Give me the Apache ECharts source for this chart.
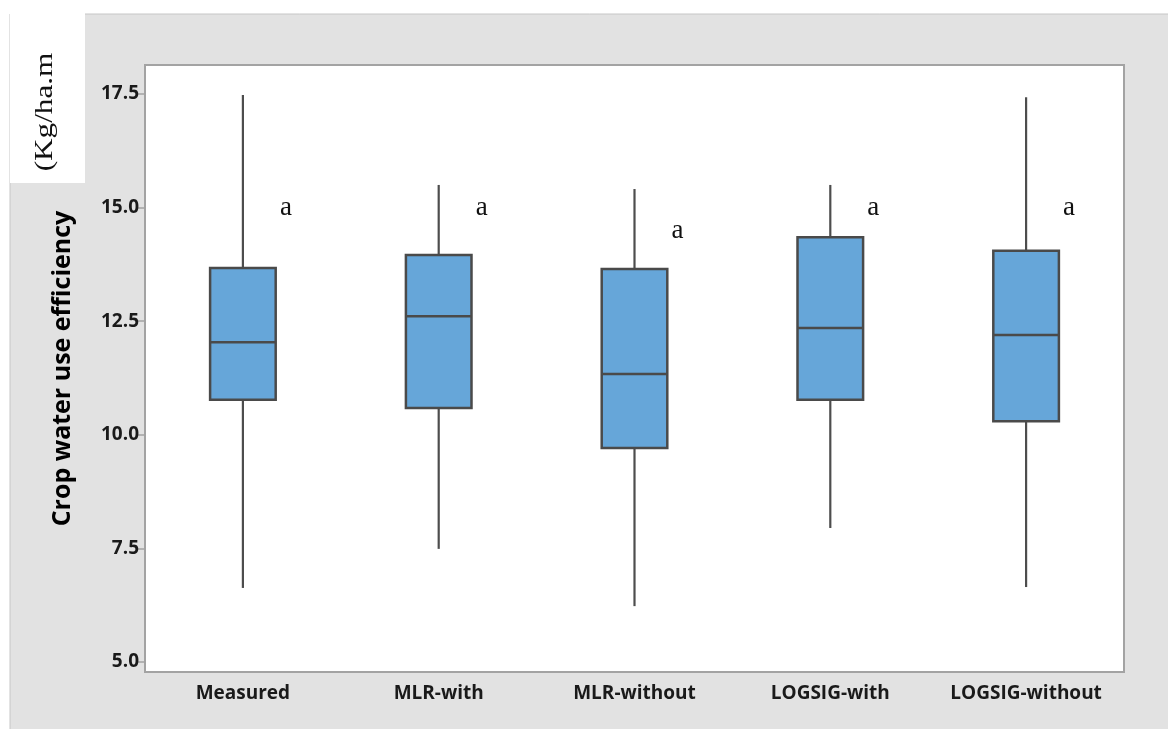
<!DOCTYPE html>
<html>
<head>
<meta charset="utf-8">
<script src="https://cdn.jsdelivr.net/npm/echarts@6/dist/echarts.min.js"></script>
<style>html,body{margin:0;padding:0;background:#fff;}#c{width:1168px;height:729px;}</style>
</head>
<body>
<div id="c"></div>
<script>
const categories = ['Measured', 'MLR-with', 'MLR-without', 'LOGSIG-with', 'LOGSIG-without'];
const whiskerLow = [6.63, 7.49, 6.23, 7.95, 6.65];
const q1 = [10.77, 10.59, 9.71, 10.77, 10.30];
const median = [12.04, 12.61, 11.34, 12.35, 12.20];
const q3 = [13.67, 13.96, 13.65, 14.35, 14.05];
const whiskerHigh = [17.48, 15.50, 15.41, 15.50, 17.43];
const letters = ['a', 'a', 'a', 'a', 'a'];
const letterY = [15.0, 15.0, 14.48, 15.0, 15.0];
const yTicks = [5, 7.5, 10, 12.5, 15, 17.5];

const boxData = categories.map((c, i) => [i, whiskerLow[i], q1[i], median[i], q3[i], whiskerHigh[i]]);
const letterData = categories.map((c, i) => [i, letterY[i], letters[i]]);

const chart = echarts.init(document.getElementById('c'));

function renderBox(params, api) {
  const i = api.value(0);
  const pMin = api.coord([i, api.value(1)]);
  const pQ1 = api.coord([i, api.value(2)]);
  const pMed = api.coord([i, api.value(3)]);
  const pQ3 = api.coord([i, api.value(4)]);
  const pMax = api.coord([i, api.value(5)]);
  const bw = api.size([1, 0])[0] * 0.335;
  const x = pMed[0];
  const lineStyle = { stroke: '#4d4d4d', lineWidth: 2.2 };
  return {
    type: 'group',
    children: [
      { type: 'line', shape: { x1: x, y1: pMin[1], x2: x, y2: pQ1[1] }, style: lineStyle },
      { type: 'line', shape: { x1: x, y1: pQ3[1], x2: x, y2: pMax[1] }, style: lineStyle },
      { type: 'rect', shape: { x: x - bw / 2, y: pQ3[1], width: bw, height: pQ1[1] - pQ3[1] },
        style: { fill: '#66a6d9', stroke: '#4a4a4a', lineWidth: 2.5 } },
      { type: 'line', shape: { x1: x - bw / 2, y1: pMed[1], x2: x + bw / 2, y2: pMed[1] },
        style: { stroke: '#4a4a4a', lineWidth: 2.5 } }
    ]
  };
}

function renderLetter(params, api) {
  const p = api.coord([api.value(0), api.value(1)]);
  return {
    type: 'text',
    x: p[0] + 43,
    y: p[1],
    style: {
      text: letters[params.dataIndex],
      font: '27px "Liberation Serif"',
      fill: '#111',
      textAlign: 'center',
      textVerticalAlign: 'middle'
    }
  };
}

chart.setOption({
  backgroundColor: '#ffffff',
  animation: false,
  graphic: [
    { type: 'rect', z: -10, shape: { x: 10, y: 14, width: 1170, height: 730 },
      style: { fill: '#e2e2e2', stroke: '#c6c6c6', lineWidth: 1 } },
    { type: 'rect', z: -9, shape: { x: 10, y: 11, width: 75, height: 172 },
      style: { fill: '#ffffff' } },
    { type: 'text', z: 10, x: 45, y: 112, rotation: Math.PI / 2, scaleX: 1.2,
      style: { text: '(Kg/ha.m', font: '26px "Liberation Serif"', fill: '#111',
               textAlign: 'center', textVerticalAlign: 'middle' } }
  ],
  grid: {
    left: 145, top: 65, right: 44, bottom: 57,
    show: true, backgroundColor: '#ffffff', borderColor: '#a3a3a3', borderWidth: 2
  },
  xAxis: {
    type: 'category',
    data: categories,
    boundaryGap: true,
    axisLine: { lineStyle: { color: '#a3a3a3', width: 2 } },
    axisTick: { alignWithLabel: true, length: 6, lineStyle: { color: '#a3a3a3', width: 1.5 } },
    axisLabel: { interval: 0, hideOverlap: false, margin: 12, color: '#1a1a1a', fontSize: 19,
                 fontWeight: 'bold', fontFamily: 'Open Sans' },
    splitLine: { show: false }
  },
  yAxis: {
    type: 'value',
    min: 4.78,
    max: 18.14,
    name: 'Crop water use efficiency',
    nameLocation: 'middle',
    nameGap: 70,
    nameTextStyle: { fontSize: 25, fontWeight: 'bold', color: '#000', fontFamily: 'Open Sans' },
    axisLine: { show: true, lineStyle: { color: '#a3a3a3', width: 2 } },
    axisTick: { show: true, length: 7, customValues: yTicks, lineStyle: { color: '#a3a3a3', width: 1.5 } },
    axisLabel: { customValues: yTicks, margin: 6, color: '#1a1a1a', fontSize: 19, fontWeight: 'bold',
                 fontFamily: 'Open Sans', formatter: v => v.toFixed(1) },
    splitLine: { show: false }
  },
  series: [
    { type: 'custom', renderItem: renderBox, data: boxData, encode: { x: 0, y: [1, 2, 3, 4, 5] }, z: 3 },
    { type: 'custom', renderItem: renderLetter, data: letterData, encode: { x: 0, y: 1 }, z: 4 }
  ]
});
</script>
</body>
</html>
